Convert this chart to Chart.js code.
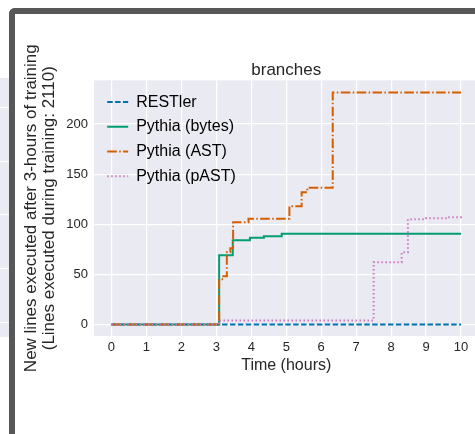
<!DOCTYPE html>
<html>
<head>
<meta charset="utf-8">
<script src="https://cdn.jsdelivr.net/npm/chart.js@4.4.1/dist/chart.umd.min.js"></script>
<style>
  html, body { margin: 0; padding: 0; width: 475px; height: 434px; overflow: hidden; background: #fff; }
  #side { position: absolute; left: 0; top: 78px; width: 9px; height: 259px; background: #eaeaf2; }
  .gl { position: absolute; left: 0; width: 9px; height: 1px; background: #fff; }
  #frame { position: absolute; left: 9px; top: 8px; width: 520px; height: 480px; border: 6px solid #575757;
    border-right: none; border-bottom: none; border-top-left-radius: 6px; box-sizing: border-box; background: #fff; }
  #c { position: absolute; left: 0; top: 0; }
</style>
</head>
<body>
<div id="side">
  <div class="gl" style="top:29px"></div>
  <div class="gl" style="top:83px"></div>
  <div class="gl" style="top:136px"></div>
  <div class="gl" style="top:190px"></div>
  <div class="gl" style="top:244px"></div>
</div>
<div id="frame"></div>
<canvas id="c" width="490" height="434"></canvas>
<script>
// data (hours, new lines); each point is where a step lands
const restler = [[0, 0], [10, 0]]
const bytes = [[0, 0], [3.08, 69], [3.47, 84], [3.96, 86.5], [4.36, 88], [4.87, 90.5], [10, 90.5]]
const ast = [[0, 0], [3.08, 45], [3.2, 48], [3.3, 72], [3.4, 76], [3.48, 102], [3.92, 105.5],
  [5.09, 118], [5.44, 132], [5.6, 136.5], [6.33, 231.5], [10, 231.5]]
const past = [[0, 0], [3.08, 4], [7.5, 62], [8.3, 72], [8.48, 105], [9.0, 106], [9.6, 107], [10, 108.5]]

const seriesNames = ['RESTler', 'Pythia (bytes)', 'Pythia (AST)', 'Pythia (pAST)']
const xTicks = [0, 1, 2, 3, 4, 5, 6, 7, 8, 9, 10]
const yTicks = [0, 50, 100, 150, 200]

const textColor = '#262626'
Chart.defaults.font.family = "'Liberation Sans', Arial, sans-serif"
Chart.defaults.color = textColor

const pts = arr => arr.map(([x, y]) => ({ x, y }))

const line = (label, data, color, dash, order) => ({
  label,
  data: pts(data),
  borderColor: color,
  backgroundColor: color,
  borderWidth: 2,
  borderDash: dash,
  stepped: 'before',
  pointRadius: 0,
  fill: false,
  order
})

const plotBg = {
  id: 'plotBg',
  beforeDraw(chart) {
    const { ctx, chartArea: a } = chart
    ctx.save()
    ctx.fillStyle = '#eaeaf2'
    ctx.fillRect(a.left, a.top, a.right - a.left, a.bottom - a.top)
    ctx.restore()
  }
}

// title centred over the plot, legend inside it at the upper left (matplotlib style)
const placeBoxes = {
  id: 'placeBoxes',
  afterLayout(chart) {
    const area = chart.chartArea
    const tb = chart.titleBlock
    if (tb) { tb.left = area.left; tb.right = area.right }
    const lg = chart.legend
    if (!lg) return
    const dx = area.left + 4.5 - lg.left
    const dy = area.top + 5 - lg.top
    lg.left += dx; lg.right += dx
    lg.top += dy; lg.bottom += dy
    ;(lg.legendHitBoxes || []).forEach(h => { h.left += dx; h.top += dy })
  }
}

new Chart(document.getElementById('c'), {
  type: 'line',
  data: {
    datasets: [
      line(seriesNames[0], restler, '#0173b2', [5.5, 2.4], 4),
      line(seriesNames[1], bytes, '#029e73', [], 3),
      line(seriesNames[2], ast, '#d55e00', [9.6, 2.4, 1.5, 2.4], 2),
      line(seriesNames[3], past, '#cc78bc', [1.5, 2.5], 1)
    ]
  },
  options: {
    responsive: false,
    animation: false,
    devicePixelRatio: 1,
    layout: { padding: { left: 0, right: 11.5, top: 50, bottom: 48 } },
    scales: {
      x: {
        type: 'linear',
        min: -0.5,
        max: 10.5,
        grid: { color: '#fff', lineWidth: 1.2, drawTicks: false },
        border: { display: false },
        ticks: { font: { size: 13 }, padding: 4, maxRotation: 0 },
        afterBuildTicks: a => { a.ticks = xTicks.map(v => ({ value: v })) },
        afterFit: a => { a.height = 50 },
        title: { display: true, text: 'Time (hours)', font: { size: 16 }, padding: { top: 0, bottom: 11 } }
      },
      y: {
        type: 'linear',
        min: -11.6,
        max: 243.6,
        grid: { color: '#fff', lineWidth: 1.2, drawTicks: false },
        border: { display: false },
        ticks: { font: { size: 13 }, padding: 6 },
        afterBuildTicks: a => { a.ticks = yTicks.map(v => ({ value: v })) },
        afterFit: a => { a.width = 94 },
        title: {
          display: true,
          text: ['New lines executed after 3-hours of training', '(Lines executed during training: 2110)'],
          font: { size: 17, lineHeight: '18.5px' },
          padding: { top: 22, bottom: 0 }
        }
      }
    },
    plugins: {
      title: {
        display: true,
        text: 'branches',
        color: textColor,
        font: { size: 17, weight: 'normal' },
        padding: { top: 10, bottom: 0 }
      },
      legend: {
        position: 'chartArea',
        align: 'start',
        labels: {
          usePointStyle: true,
          pointStyleWidth: 21,
          padding: 8.7,
          font: { size: 16 },
          generateLabels: chart => chart.data.datasets.map((ds, i) => ({
            text: ds.label,
            strokeStyle: ds.borderColor,
            fillStyle: ds.borderColor,
            lineWidth: ds.borderWidth,
            lineDash: ds.borderDash,
            pointStyle: 'line',
            datasetIndex: i,
            hidden: false
          }))
        }
      },
      tooltip: { enabled: false }
    }
  },
  plugins: [plotBg, placeBoxes]
})
</script>
</body>
</html>
